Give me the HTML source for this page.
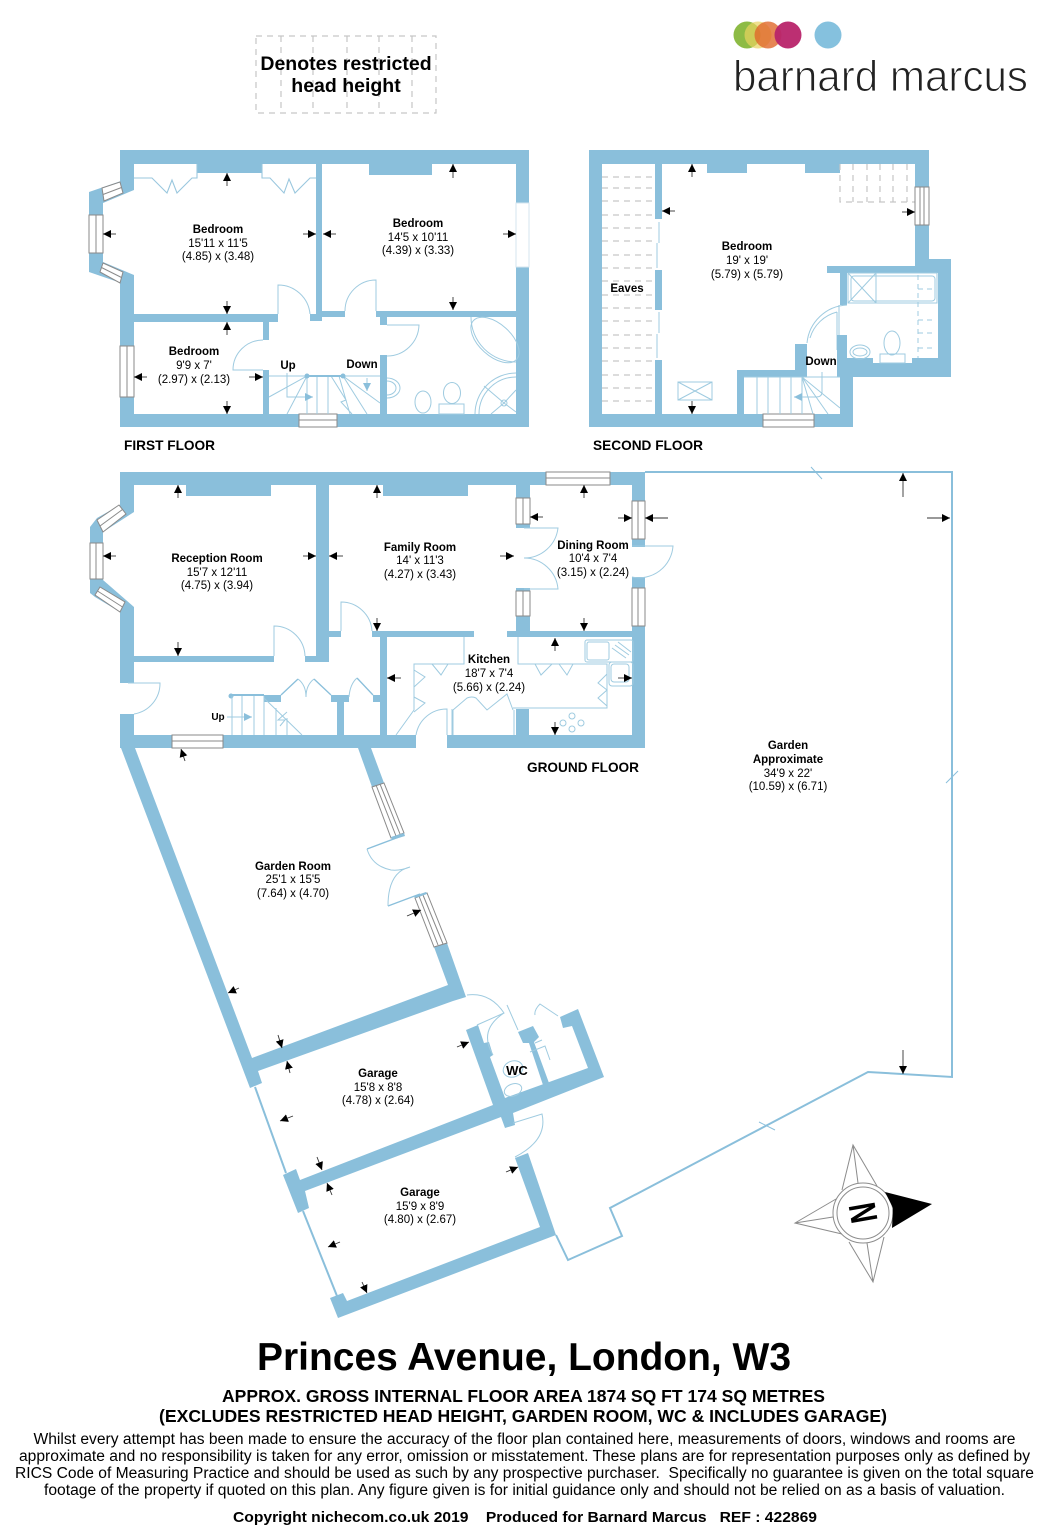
<!DOCTYPE html>
<html><head><meta charset="utf-8"><style>
html,body{margin:0;padding:0;background:#fff}
svg{display:block}
text{font-family:"Liberation Sans",sans-serif;fill:#000}
.b{font-weight:bold}
.l{font-size:11.5px;text-anchor:middle}
.w{fill:#8abfdb}
.r{fill:#fff}
.t{fill:none;stroke:#9fcbe0;stroke-width:1}
.g{fill:#fff;stroke:#8a8a8a;stroke-width:1}
.gl{fill:none;stroke:#8a8a8a;stroke-width:1}
.d{fill:none;stroke:#c6c6c6;stroke-width:1.2;stroke-dasharray:6 5}
.a line{stroke:#333;stroke-width:.9;marker-end:url(#m)}
</style></head><body>
<svg width="1053" height="1536" viewBox="0 0 1053 1536" xmlns="http://www.w3.org/2000/svg">
<defs>
<marker id="m" viewBox="0 0 8 8" refX="8" refY="4" markerWidth="8" markerHeight="8" markerUnits="userSpaceOnUse" orient="auto"><path d="M0 0L8 4L0 8Z" fill="#000"/></marker>
<marker id="s" viewBox="0 0 8 8" refX="8" refY="4" markerWidth="8" markerHeight="8" markerUnits="userSpaceOnUse" orient="auto"><path d="M0 0L8 4L0 8Z" fill="#8abfdb"/></marker>
</defs>
<rect width="1053" height="1536" fill="#fff"/>

<!-- logo -->
<circle cx="747" cy="35" r="13.5" fill="#8dbb45"/><circle cx="758" cy="35" r="13.5" fill="#e8d35f" opacity=".7"/><circle cx="768" cy="35" r="13.5" fill="#e0682b" opacity=".8"/>
<circle cx="788" cy="35" r="13.5" fill="#b8246a" opacity=".95"/><circle cx="828" cy="35" r="13.5" fill="#85c1de"/>
<text x="733" y="91" font-size="44" textLength="295" lengthAdjust="spacingAndGlyphs" style="fill:#222" stroke="#fff" stroke-width="1">barnard marcus</text>

<!-- restricted legend -->
<rect x="256" y="36" width="180" height="77" class="d"/>
<path d="M281 36V113M313 36V113M347 36V113M379 36V113M412 36V113" class="d"/>
<text x="346" y="70" class="b" font-size="19.5" text-anchor="middle">Denotes restricted</text>
<text x="346" y="92" class="b" font-size="19.5" text-anchor="middle">head height</text>

<!-- FIRST FLOOR -->
<rect x="120" y="150" width="409" height="277" class="w"/>
<polygon class="w" points="121,181 89,192 89,272 121,283 134,280 134,185"/>
<polygon class="r" points="134,164 197,164 197,173 262,173 262,164 316,164 316,314 134,314 134,275 103,262 103,203 134,190"/>
<polygon class="r" points="322,164 369,164 369,175 432,175 432,164 516,164 516,311 322,311"/>
<polygon class="r" points="269,322 278,322 278,314 310,314 310,321 322,321 322,317 345,317 345,311 376,311 376,317 380,317 380,414 269,414"/>
<rect x="134" y="322" width="129" height="92" class="r"/>
<rect x="387" y="317" width="129" height="97" class="r"/>
<rect x="263" y="340" width="6" height="30" class="r"/>
<rect x="380" y="325" width="7" height="30" class="r"/>
<rect x="380" y="317" width="7" height="8" class="w"/>
<!-- windows -->
<polygon class="g" points="102,188 120,182 123,193 104,201"/><line x1="103" y1="194.500" x2="121.500" y2="187.500" class="gl"/>
<polygon class="g" points="103,263 123,272 120,283 100,272"/><line x1="101.500" y1="267.500" x2="121.500" y2="277.500" class="gl"/>
<rect x="89" y="215" width="14" height="38" class="g"/><line x1="96" y1="215" x2="96" y2="253" class="gl"/>
<rect x="516" y="203" width="13" height="64" fill="#fff" stroke="#d4e6ef"/>
<rect x="120" y="346" width="14" height="51" class="g"/><line x1="127" y1="346" x2="127" y2="397" class="gl"/>
<rect x="299" y="414" width="38" height="13" class="g"/><line x1="299" y1="420" x2="337" y2="420" class="gl"/>
<!-- wardrobes -->
<path fill="none" stroke="#9ac7de" stroke-width="1.100" d="M134 178H152L167 193L172 180L177 193L192 178H197V164M262 164V178H270L284 193L289 179L295 193L310 178H316"/>
<!-- doors -->
<path class="t" d="M278 314V285A32 32 0 0 1 310 314"/>
<path class="t" d="M376 311V280A31 31 0 0 0 345 311"/>
<path class="t" d="M263 370H233A30 30 0 0 1 263 340"/>
<path class="t" d="M387 325H419A32 32 0 0 1 387 356"/>
<!-- stairs -->
<path class="t" d="M269 376H380M307 376L287 414M269 397L307 376M307 376V414M317 376V414M328 376V414M343 376L380 403M343 376L367 414M339 376L350 414M331 376L346 400L341 402L352 414"/>
<rect x="307" y="375" width="36" height="2" class="w"/><circle cx="307" cy="376" r="2.500" class="w"/><circle cx="343" cy="376" r="2.500" class="w"/>
<path class="t" d="M287 373V397H313" marker-end="url(#s)"/><path class="t" d="M367 378V391" marker-end="url(#s)"/>
<!-- bath fixtures -->
<path class="t" d="M471 317A45 45 0 0 0 516 362"/><ellipse cx="495" cy="340" rx="29" ry="16" transform="rotate(42 495 340)" class="t"/>
<path class="t" d="M516 373A41 41 0 0 0 475 414M516 377A37 37 0 0 0 479 414M504 403L516 390M504 403L484 386M504 403L491 414M504 403L516 412"/><circle cx="504" cy="403" r="3" class="t"/>
<path class="t" d="M387 378A13 10 0 0 1 387 398M387 381A9 7 0 0 1 387 395"/>
<ellipse cx="423" cy="402" rx="8" ry="11" class="t"/><ellipse cx="452" cy="393" rx="8.500" ry="10.500" class="t"/><rect x="439" y="404" width="25" height="10" class="t"/>

<text x="218" y="233" class="b l">Bedroom</text><text x="218" y="247" class="l">15'11 x 11'5</text><text x="218" y="260" class="l">(4.85) x (3.48)</text>
<text x="418" y="227" class="b l">Bedroom</text><text x="418" y="241" class="l">14'5 x 10'11</text><text x="418" y="254" class="l">(4.39) x (3.33)</text>
<text x="194" y="355" class="b l">Bedroom</text><text x="194" y="369" class="l">9'9 x 7'</text><text x="194" y="383" class="l">(2.97) x (2.13)</text>
<text x="288" y="369" class="b l">Up</text><text x="362" y="368" class="b l">Down</text>
<text x="124" y="450" class="b" font-size="14" textLength="91" lengthAdjust="spacingAndGlyphs">FIRST FLOOR</text>

<!-- SECOND FLOOR -->
<polygon class="w" points="589,150 929,150 929,259 951,259 951,377 853,377 853,427 589,427"/>
<rect x="602" y="164" width="53" height="250" class="r"/>
<polygon class="r" points="662,164 707,164 707,173 747,173 747,164 805,164 805,173 840,173 840,164 915,164 915,266 827,266 827,273 840,273 840,305 847,305 847,335 837,335 837,377 807,377 807,344 795,344 795,370 737,370 737,414 662,414"/>
<rect x="744" y="377" width="96" height="37" class="r"/>
<rect x="847" y="273" width="91" height="85" class="r"/><rect x="873" y="358" width="39" height="5" class="r"/>
<rect x="655" y="219" width="7" height="51" class="r"/><rect x="655" y="310" width="7" height="50" class="r"/>
<path class="t" d="M659 222V243M657 243V268M659 312V333M657 334V358"/>
<path class="d" d="M602 177H655M602 188H655M602 201H655M602 215H655M602 228H655M602 241H655M602 255H655M602 268H655M602 281H655M602 295H655M602 308H655M602 321H655M602 335H655M602 348H655M602 361H655M602 375H655M602 388H655M602 401H655"/>
<path class="d" d="M840 164V202H915M853 164V202M867 164V202M880 164V202M893 164V202M907 164V202"/>
<rect x="915" y="187" width="14" height="38" class="g"/><path class="gl" d="M920 187V225M924 187V225"/>
<rect x="763" y="414" width="51" height="13" class="g"/><line x1="763" y1="420" x2="814" y2="420" class="gl"/>
<rect x="678" y="382" width="34" height="18" class="t"/><path class="t" d="M678 382L712 400M712 382L678 400"/>
<!-- second bath -->
<rect x="848" y="273" width="89" height="30" class="t"/><rect x="851" y="276" width="84" height="25" rx="3" class="t"/>
<path class="t" d="M848 273L876 303M876 273L848 303M876 273V303"/>
<path class="t" d="M918 275V358M918 289H936M918 303H936M918 320H936M918 333H936M918 348H936" stroke-dasharray="5 4"/>
<ellipse cx="892" cy="343" rx="8" ry="12" class="t"/><rect x="880" y="354" width="25" height="9" class="t"/>
<ellipse cx="860" cy="352" rx="10" ry="7" class="t"/><ellipse cx="860" cy="352" rx="7" ry="4" class="t"/>
<path class="t" d="M847 305A42 42 0 0 0 807 343M837 312A38 38 0 0 0 810 338M837 312V350M839 305V345"/>
<rect x="837" y="335" width="3" height="15" class="w"/>
<path class="t" d="M744 377H840M757 377V414M768 377V414M780 377V414M791 377V414M802 377V414M802 377L840 408M802 377L828 414M802 377L813 414"/>
<path class="t" d="M822 372V392Q822 397 816 397H794" marker-end="url(#s)"/>
<text x="747" y="250" class="b l">Bedroom</text><text x="747" y="264" class="l">19' x 19'</text><text x="747" y="278" class="l">(5.79) x (5.79)</text>
<text x="627" y="292" class="b l">Eaves</text><text x="821" y="365" class="b l">Down</text>
<text x="593" y="450" class="b" font-size="14" textLength="110" lengthAdjust="spacingAndGlyphs">SECOND FLOOR</text>

<!-- GROUND FLOOR -->
<rect x="120" y="472" width="525" height="276" class="w"/>
<polygon class="w" points="120,505 97,518 90,527 90,593 95,597 120,612 134,608 134,510"/>
<polygon class="r" points="134,485 186,485 186,496 271,496 271,485 316,485 316,656 134,656 134,607 103,580 103,532 134,512"/>
<polygon class="r" points="329,485 383,485 383,496 468,496 468,485 516,485 516,528 530,528 530,588 516,588 516,631 329,631"/>
<rect x="530" y="485" width="102" height="146" class="r"/>
<rect x="632" y="547" width="13" height="30" class="r"/>
<rect x="341" y="631" width="31" height="6" class="r"/><rect x="474" y="631" width="33" height="6" class="r"/>
<rect x="274" y="656" width="31" height="6" class="r"/>
<rect x="134" y="662" width="246" height="73" class="r"/><rect x="329" y="637" width="51" height="25" class="r"/><rect x="120" y="683" width="14" height="31" class="r"/>
<rect x="387" y="637" width="245" height="98" class="r"/><rect x="416" y="735" width="31" height="13" class="r"/>
<rect x="516" y="709" width="13" height="26" class="w"/>
<rect x="516" y="525" width="14" height="3" class="w"/><rect x="516" y="588" width="14" height="3" class="w"/>
<rect x="516" y="498" width="14" height="26" class="g"/><line x1="523" y1="498" x2="523" y2="524" class="gl"/>
<rect x="516" y="591" width="14" height="25" class="g"/><line x1="523" y1="591" x2="523" y2="616" class="gl"/>
<rect x="632" y="501" width="13" height="38" class="g"/><line x1="638" y1="501" x2="638" y2="539" class="gl"/>
<rect x="632" y="588" width="13" height="38" class="g"/><line x1="638" y1="588" x2="638" y2="626" class="gl"/>
<rect x="546" y="472" width="64" height="13" class="g"/><line x1="546" y1="478" x2="610" y2="478" class="gl"/>
<rect x="172" y="735" width="51" height="13" class="g"/><line x1="172" y1="741" x2="223" y2="741" class="gl"/>
<polygon class="g" points="97,520 119,505 126,514 103,532"/><line x1="100" y1="526" x2="122.500" y2="509.500" class="gl"/>
<polygon class="g" points="95,595 100,587 125,602 120,612"/><line x1="97.500" y1="591" x2="122.500" y2="607" class="gl"/>
<rect x="90" y="543" width="13" height="36" class="g"/><line x1="96" y1="543" x2="96" y2="579" class="gl"/>
<!-- ground doors -->
<path class="t" d="M274 656V626A31 31 0 0 1 305 656"/>
<path class="t" d="M341 631V602A31 31 0 0 1 372 631"/>
<path class="t" d="M128 683H160A31 31 0 0 1 134 714"/>
<path class="t" d="M524 528H558A34 34 0 0 1 524 558A34 34 0 0 1 558 589H524"/>
<path class="t" d="M632 546H673A34 34 0 0 1 632 577"/>
<path class="t" d="M447 735V709A31 31 0 0 0 416 735M452 709V735"/>
<!-- kitchen fittings -->
<path class="t" d="M464 637V664H414V710L396 735M518 637V664H607V708H513"/>
<path class="t" d="M432 664L441 675L448 664M535 664L541 675L552 664M559 664L567 675L573 664M607 674L598 683L607 690L598 698L607 706M414 670L425 677L414 687M414 697L425 703L414 712M453 710L467 698Q472 696 476 698L487 710L507 694L513 710M453 710V735M514 710V735"/>
<rect x="585" y="640" width="48" height="22" rx="2" class="t"/><rect x="587" y="642" width="22" height="18" rx="2" class="t"/>
<path class="t" d="M612 648L626 658M615 645L629 655M618 642L631 652"/>
<rect x="609" y="662" width="24" height="24" rx="3" class="t"/><rect x="611" y="664" width="18" height="18" rx="3" class="t"/>
<g class="t"><circle cx="563" cy="723" r="3"/><circle cx="572" cy="716" r="3"/><circle cx="581" cy="723" r="3"/><circle cx="572" cy="729" r="3"/></g>
<!-- hall cupboards and stairs -->
<rect x="231" y="694" width="33" height="2" class="w"/><circle cx="231" cy="696" r="2.500" class="w"/>
<rect x="264" y="695" width="17" height="7" class="w"/><rect x="331" y="695" width="18" height="7" class="w"/><rect x="337" y="702" width="7" height="33" class="w"/><rect x="373" y="695" width="8" height="7" class="w"/><rect x="380" y="637" width="7" height="98" class="w"/>
<path class="t" d="M232 696V735M242 696V735M254 696V735M264 696V735M276 708V735M287 718V735M264 698L302 735M287 712L278 720L285 720L280 726"/>
<path class="t" d="M227 717H252" marker-end="url(#s)"/>
<path fill="none" stroke="#8abfdb" stroke-width="1.300" d="M281 695L298 679M314 679L331 695M357 678L373 695"/>
<path class="t" d="M298 679Q306 685 306 697Q306 685 314 679M349 697Q350 684 357 678"/>
<text x="218" y="720" class="b" font-size="10" text-anchor="middle">Up</text>
<text x="217" y="562" class="b l">Reception Room</text><text x="217" y="576" class="l">15'7 x 12'11</text><text x="217" y="589" class="l">(4.75) x (3.94)</text>
<text x="420" y="551" class="b l">Family Room</text><text x="420" y="564" class="l">14' x 11'3</text><text x="420" y="578" class="l">(4.27) x (3.43)</text>
<text x="593" y="549" class="b l">Dining Room</text><text x="593" y="562" class="l">10'4 x 7'4</text><text x="593" y="576" class="l">(3.15) x (2.24)</text>
<text x="489" y="663" class="b l">Kitchen</text><text x="489" y="677" class="l">18'7 x 7'4</text><text x="489" y="691" class="l">(5.66) x (2.24)</text>
<text x="527" y="772" class="b" font-size="14" textLength="112" lengthAdjust="spacingAndGlyphs">GROUND FLOOR</text>

<!-- Garden outline -->
<polyline fill="none" stroke="#8abfdb" stroke-width="2" points="645,472 952,472 952,1077 868,1072 610,1208 622,1236 568,1260 556,1235"/>
<path stroke="#8abfdb" stroke-width="1" fill="none" d="M811 467L822 479M946 783L958 771M759 1122L775 1130"/>
<text x="788" y="749" class="b l">Garden</text><text x="788" y="763" class="b l">Approximate</text><text x="788" y="777" class="l">34'9 x 22'</text><text x="788" y="790" class="l">(10.59) x (6.71)</text>

<!-- Garden room -->
<polygon class="w" points="121,748 135,748 252,1058 448,985 434,947 447,943 466,997 453,1001 258,1071 262,1083 250,1088"/>
<polygon class="w" points="358,748 371,748 384,783 372,787"/>
<polygon class="g" points="372,787 384,783 404,833 391,838"/><path class="gl" d="M376 785L396 836M380 784L400 834"/>
<polygon class="w" points="391,837 404,833 405,836 392,840"/>
<polygon class="g" points="415,898 427,893 447,943 434,947"/><path class="gl" d="M419 896L438 945M423 895L443 944"/>
<polygon class="w" points="414,896 426,892 427,894 415,898"/>
<path fill="none" stroke="#8abfdb" stroke-width="1.300" d="M367 849L399 837M388 906L420 894"/>
<path class="t" d="M367 849Q372 866 391 870Q400 871 410 867Q388 872 388 906"/>
<text x="293" y="870" class="b l">Garden Room</text><text x="293" y="883" class="l">25'1 x 15'5</text><text x="293" y="897" class="l">(7.64) x (4.70)</text>

<!-- Garages -->
<line x1="255" y1="1087" x2="286" y2="1173" stroke="#8abfdb" stroke-width="2"/>
<line x1="303" y1="1211" x2="337" y2="1296" stroke="#8abfdb" stroke-width="2"/>
<polygon class="w" points="300,1180 493,1105 466,1030 478,1025 484,1043 489,1042 493,1055 490,1057 505,1098 588,1068 572,1026 563,1028 560,1017 578,1009 604,1077 513,1113 515,1125 505,1128 501,1117 305,1191 309,1208 298,1213 283,1175 296,1169"/>
<polygon class="w" points="518,1032 533,1026 539,1037 534,1042 549,1083 543,1085 529,1043 523,1043"/>
<polygon class="w" points="515,1158 528,1153 556,1235 338,1318 330,1298 343,1293 347,1301 540,1227"/>
<path class="t" d="M467 995Q490 992 504 1013L477 1025M507 1005L518 1030M504 1013Q478 1030 493 1055M535 1015Q534 1010 540 1004L558 1016M535 1043L542 1040M530 1052L545 1046L550 1060M513 1123L542 1114Q548 1140 515 1157"/>
<ellipse cx="513" cy="1069" rx="10" ry="8" transform="rotate(-20 513 1069)" class="t"/>
<ellipse cx="513" cy="1090" rx="9" ry="6" transform="rotate(-20 513 1090)" class="t"/>
<text x="517" y="1075" class="b" font-size="13" text-anchor="middle">WC</text>
<text x="378" y="1077" class="b l">Garage</text><text x="378" y="1091" class="l">15'8 x 8'8</text><text x="378" y="1104" class="l">(4.78) x (2.64)</text>
<text x="420" y="1196" class="b l">Garage</text><text x="420" y="1210" class="l">15'9 x 8'9</text><text x="420" y="1223" class="l">(4.80) x (2.67)</text>

<!-- dimension arrows -->
<g class="a">
<line x1="227" y1="186" x2="227" y2="173"/><line x1="453" y1="178" x2="453" y2="164"/><line x1="116" y1="234" x2="103" y2="234"/><line x1="303" y1="234" x2="316" y2="234"/><line x1="336" y1="234" x2="323" y2="234"/><line x1="503" y1="234" x2="516" y2="234"/><line x1="227" y1="301" x2="227" y2="314"/><line x1="453" y1="297" x2="453" y2="310"/><line x1="227" y1="335" x2="227" y2="322"/><line x1="147" y1="377" x2="134" y2="377"/><line x1="249" y1="377" x2="263" y2="377"/><line x1="227" y1="401" x2="227" y2="414"/>
<line x1="692" y1="177" x2="692" y2="164"/><line x1="675" y1="211" x2="662" y2="211"/><line x1="902" y1="212" x2="915" y2="212"/><line x1="692" y1="401" x2="692" y2="414"/>
<line x1="178" y1="498" x2="178" y2="485"/><line x1="116" y1="556" x2="103" y2="556"/><line x1="303" y1="556" x2="316" y2="556"/><line x1="343" y1="556" x2="329" y2="556"/><line x1="178" y1="642" x2="178" y2="656"/><line x1="377" y1="498" x2="377" y2="485"/><line x1="500" y1="556" x2="514" y2="556"/><line x1="377" y1="618" x2="377" y2="631"/><line x1="584" y1="498" x2="584" y2="485"/><line x1="543" y1="517" x2="530" y2="517"/><line x1="618" y1="518" x2="632" y2="518"/><line x1="668" y1="518" x2="645" y2="518"/><line x1="584" y1="618" x2="584" y2="631"/><line x1="555" y1="651" x2="555" y2="638"/><line x1="401" y1="678" x2="387" y2="678"/><line x1="618" y1="678" x2="632" y2="678"/><line x1="555" y1="722" x2="555" y2="735"/><line x1="185" y1="761" x2="181" y2="749"/>
<line x1="903" y1="497" x2="903" y2="473"/><line x1="927" y1="518" x2="950" y2="518"/><line x1="903" y1="1050" x2="903" y2="1074"/>
<line x1="239" y1="988" x2="228" y2="993"/><line x1="407" y1="916" x2="421" y2="910"/><line x1="278" y1="1035" x2="282" y2="1048"/><line x1="290" y1="1073" x2="287" y2="1061"/><line x1="293" y1="1116" x2="280" y2="1121"/><line x1="457" y1="1047" x2="469" y2="1042"/><line x1="317" y1="1157" x2="322" y2="1170"/><line x1="332" y1="1195" x2="327" y2="1183"/><line x1="340" y1="1242" x2="328" y2="1247"/><line x1="506" y1="1172" x2="518" y2="1167"/><line x1="362" y1="1282" x2="367" y2="1293"/>
</g>

<!-- compass -->
<g fill="none" stroke="#8c8c8c" stroke-width="1">
<path d="M842 1190L853 1145L877 1186M853 1145L858 1183"/>
<path d="M836 1199L795 1223L842 1234M795 1223L833 1217"/>
<path d="M849 1242L873 1282L884 1237M873 1282L867 1243"/>
<circle cx="863" cy="1213" r="30"/><circle cx="863" cy="1213" r="26"/>
</g>
<polygon points="885,1192 932,1204 892,1228 893,1208" fill="#000"/>
<text transform="translate(848.5,1205.4) rotate(80) scale(.72,1)" class="b" font-size="38">N</text>

<!-- footer -->
<g text-anchor="middle" class="b">
<text x="524" y="1370" font-size="38.800" textLength="534" lengthAdjust="spacingAndGlyphs">Princes Avenue, London, W3</text>
<text x="523.500" y="1402" font-size="17.500" textLength="603" lengthAdjust="spacingAndGlyphs">APPROX. GROSS INTERNAL FLOOR AREA 1874 SQ FT 174 SQ METRES</text>
<text x="523" y="1422" font-size="17.500" textLength="728" lengthAdjust="spacingAndGlyphs">(EXCLUDES RESTRICTED HEAD HEIGHT, GARDEN ROOM, WC &amp; INCLUDES GARAGE)</text>
<text x="525" y="1522" font-size="15" textLength="584" lengthAdjust="spacingAndGlyphs" xml:space="preserve">Copyright nichecom.co.uk 2019    Produced for Barnard Marcus   REF : 422869</text>
</g>
<g text-anchor="middle" font-size="15.500">
<text x="524.500" y="1444" textLength="982" lengthAdjust="spacingAndGlyphs">Whilst every attempt has been made to ensure the accuracy of the floor plan contained here, measurements of doors, windows and rooms are</text>
<text x="524.500" y="1461" textLength="1011" lengthAdjust="spacingAndGlyphs">approximate and no responsibility is taken for any error, omission or misstatement. These plans are for representation purposes only as defined by</text>
<text x="524.500" y="1478" textLength="1019" lengthAdjust="spacingAndGlyphs" xml:space="preserve">RICS Code of Measuring Practice and should be used as such by any prospective purchaser.  Specifically no guarantee is given on the total square</text>
<text x="524.500" y="1495" textLength="961" lengthAdjust="spacingAndGlyphs">footage of the property if quoted on this plan. Any figure given is for initial guidance only and should not be relied on as a basis of valuation.</text>
</g>
</svg>
</body></html>
